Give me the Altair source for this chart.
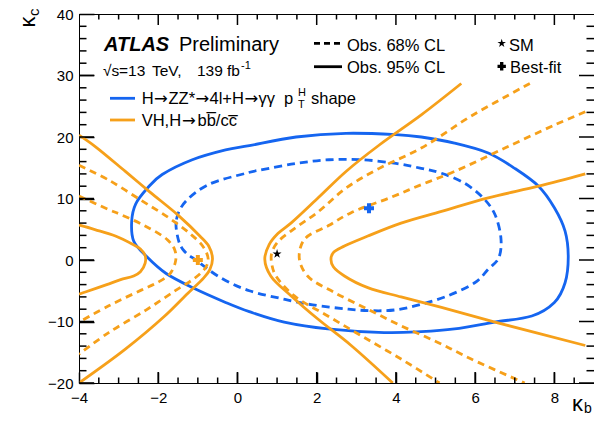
import altair as alt
import pandas as pd

FONT = "Liberation Sans"
ARROW_FONT = "DejaVu Sans"
BLUE = "#1565f0"
ORANGE = "#f6a01a"
W, H = 515, 369

X_DOMAIN = [-4, 9]
Y_DOMAIN = [-20, 40]
X_LABELS = [-4, -2, 0, 2, 4, 6, 8]
Y_LABELS = [-20, -10, 0, 10, 20, 30, 40]
X_MINOR = [-3.5, -3, -2.5, -1.5, -1, -0.5, 0.5, 1, 1.5, 2.5, 3, 3.5,
           4.5, 5, 5.5, 6.5, 7, 7.5, 8.5]
Y_MINOR = [-18, -16, -14, -12, -8, -6, -4, -2, 2, 4, 6, 8, 12, 14, 16, 18,
           22, 24, 26, 28, 32, 34, 36, 38]

# H->ZZ*->4l + H->yy pT shape, observed 95% CL (closed contour)
B95_KB = [-2.62, -2.67, -2.57, -2.27, -1.9, -1.14, -0.3, 0.3, 1.48, 2.74, 4.0, 4.64,
          5.48, 6.33, 7.0, 7.6, 8.0, 8.27, 8.35, 8.27, 8.0, 7.43, 6.49, 5.48, 4.64,
          3.7, 2.28, 1.18, 0.3, -0.3, -1.1, -1.8, -2.3]
B95_KC = [3.1, 6.3, 9.1, 11.7, 13.9, 16.3, 17.9, 18.6, 20.0, 20.6, 20.4, 20.0,
          19.0, 17.4, 14.9, 12.0, 8.5, 4.7, 0.5, -3.7, -6.9, -9.1, -10.1, -11.2, -11.65,
          -11.8, -11.2, -10.1, -8.4, -6.9, -4.6, -2.2, 0.6]
# observed 68% CL (closed contour)
B68_KB = [-1.5, -1.54, -1.31, -0.72, 0.21, 0.63, 1.48, 2.31, 3.16, 4.0, 4.64, 5.15,
          5.73, 6.2, 6.5, 6.65, 6.6, 6.33, 5.99, 5.32, 4.64, 4.0, 3.4, 2.8, 1.9, 1.2,
          0.3, -0.42, -1.01, -1.35]
B68_KC = [3.5, 6.6, 9.5, 12.3, 14.1, 14.7, 15.7, 16.3, 16.3, 15.7, 14.9, 14.1,
          12.5, 10.1, 7.4, 3.6, 0.4, -1.5, -3.7, -5.8, -7.2, -8.1, -8.25, -8.0, -7.3,
          -6.4, -5.0, -2.9, -0.2, 1.5]

# VH, H->bb/cc, observed 95% CL (four open branches)
O95A_KB = [-4.0, -3.6, -3.08, -2.66, -2.45, -2.33, -2.33, -2.45, -2.62, -2.95, -3.3, -3.84, -4.0]
O95A_KC = [5.7, 4.95, 3.9, 2.6, 1.8, 0.7, -0.5, -1.9, -2.6, -3.2, -4.0, -5.2, -5.55]
O95B_KB = [-4.0, -3.59, -2.83, -2.2, -1.5, -0.95, -0.72, -0.63, -0.7, -0.85, -1.25, -1.85, -2.83, -4.0]
O95B_KC = [20.3, 18.45, 14.4, 11.0, 7.3, 3.9, 2.2, 0.2, -1.6, -2.9, -5.4, -9.2, -14.5, -20.0]
O95C_KB = [5.65, 4.64, 3.58, 2.74, 2.05, 1.35, 1.02, 0.8, 0.69, 0.84, 1.35, 2.03, 2.87, 3.92]
O95C_KC = [28.7, 23.6, 18.7, 14.4, 10.2, 6.0, 4.3, 2.5, 0.1, -2.6, -5.8, -9.6, -13.9, -20.0]
O95D_KB = [8.78, 7.6, 6.33, 5.15, 4.13, 3.29, 2.7, 2.42, 2.36, 2.42, 2.7, 3.29, 4.13, 5.15, 6.5, 8.78]
O95D_KC = [14.0, 12.0, 10.1, 7.9, 6.0, 3.9, 2.27, 1.2, 0.1, -1.1, -2.6, -4.5, -6.0, -7.7, -10.1, -13.9]
# observed 68% CL (four open branches)
O68A_KB = [-4.0, -3.25, -2.95, -2.35, -1.77, -1.58, -1.56, -1.7, -2.0, -2.43, -3.25, -4.0]
O68A_KC = [10.4, 8.2, 7.4, 5.6, 3.3, 1.6, -0.1, -2.2, -3.6, -4.9, -7.45, -10.1]
O68B_KB = [-4.0, -3.25, -2.43, -1.72, -1.2, -0.87, -0.74, -0.8, -1.05, -1.55, -2.3, -3.25, -4.0]
O68B_KC = [15.4, 13.0, 9.7, 6.8, 4.3, 2.2, 0.2, -1.2, -2.8, -4.9, -8.1, -11.8, -15.3]
O68C_KB = [7.38, 5.9, 4.64, 3.58, 2.74, 2.03, 1.35, 1.0, 0.86, 0.87, 0.97, 1.43, 2.28, 3.12, 4.13, 5.1]
O68C_KC = [28.7, 23.4, 18.2, 14.9, 11.7, 7.8, 4.7, 2.8, 1.0, -0.8, -2.6, -5.8, -9.1, -12.3, -16.1, -20.0]
O68D_KB = [8.78, 8.02, 6.75, 5.48, 4.64, 3.88, 2.87, 2.3, 1.69, 1.56, 1.77, 2.45, 3.29, 4.13, 5.06, 5.9, 7.25]
O68D_KC = [24.1, 22.0, 18.2, 14.4, 12.25, 10.2, 7.7, 5.6, 3.35, 0.3, -2.6, -5.3, -8.0, -10.7, -13.4, -16.1, -20.0]

SM_POINT = {"kb": [1.0], "kc": [1.0]}
BLUE_BEST = {"kb": [3.32], "kc": [8.4]}
ORANGE_BEST = {"kb": [-1.0], "kc": [0.0]}

STAR = ("M0,-1L0.2245,-0.309L0.951,-0.309L0.363,0.118L0.588,0.809L0,0.382"
        "L-0.588,0.809L-0.363,0.118L-0.951,-0.309L-0.2245,-0.309Z")


def frame(parts):
    rows = []
    for name, kb, kc in parts:
        rows.append(pd.DataFrame({"curve": name, "kb": kb, "kc": kc,
                                  "i": list(range(len(kb)))}))
    return pd.concat(rows, ignore_index=True)


# axes: the axis line is pulled inside the frame (negative offset) so that
# the major ticks point inwards; labels stay just outside the frame
X = alt.X("kb:Q", scale=alt.Scale(domain=X_DOMAIN, nice=False, zero=False),
          axis=alt.Axis(values=X_LABELS, title=None, ticks=True, tickSize=11,
                        tickColor="black", tickWidth=1.5, offset=-11,
                        domain=False, grid=False, labelFontSize=15, labelFont=FONT,
                        labelColor="black", labelPadding=7, labelFlush=False,
                        labelOverlap=False))
Y = alt.Y("kc:Q", scale=alt.Scale(domain=Y_DOMAIN, nice=False, zero=False),
          axis=alt.Axis(values=Y_LABELS, title=None, ticks=True, tickSize=15,
                        tickColor="black", tickWidth=1.5, offset=-15,
                        domain=False, grid=False, labelFontSize=15, labelFont=FONT,
                        labelColor="black", labelPadding=6, labelFlush=False,
                        labelOverlap=False))


def curves(df, color, dash=None, interp="catmull-rom", width=2.8):
    kw = dict(color=color, strokeWidth=width, interpolate=interp, clip=True)
    if dash:
        kw["strokeDash"] = dash
    return alt.Chart(df).mark_line(**kw).encode(x=X, y=Y, detail="curve:N", order="i:Q")


ONE = pd.DataFrame({"_": [0]})


def label(text, x, y, size=16.5, **kw):
    props = dict(font=FONT, fontSize=size, align="left", baseline="alphabetic",
                 color="black")
    props.update(kw)
    return alt.Chart(ONE).mark_text(**props).encode(
        x=alt.value(x), y=alt.value(y), text=alt.value(text))


def hline(x1, x2, y, color, dash=None):
    kw = dict(color=color, strokeWidth=2.8)
    if dash:
        kw["strokeDash"] = dash
    return alt.Chart(ONE).mark_rule(**kw).encode(
        x=alt.value(x1), x2=alt.value(x2), y=alt.value(y))


layers = []

blue95 = frame([("b95", B95_KB, B95_KC)])
blue68 = frame([("b68", B68_KB, B68_KC)])
orange95 = frame([("a", O95A_KB, O95A_KC), ("b", O95B_KB, O95B_KC),
                  ("c", O95C_KB, O95C_KC), ("d", O95D_KB, O95D_KC)])
orange68 = frame([("a", O68A_KB, O68A_KC), ("b", O68B_KB, O68B_KC),
                  ("c", O68C_KB, O68C_KC), ("d", O68D_KB, O68D_KC)])

layers.append(curves(blue95, BLUE, interp="cardinal-closed"))
layers.append(curves(blue68, BLUE, dash=[8, 5], interp="cardinal-closed"))
layers.append(curves(orange95, ORANGE))
layers.append(curves(orange68, ORANGE, dash=[7, 5]))

layers.append(alt.Chart(pd.DataFrame(BLUE_BEST)).mark_point(
    shape="cross", filled=True, size=100, color=BLUE, opacity=1).encode(x=X, y=Y))
layers.append(alt.Chart(pd.DataFrame(ORANGE_BEST)).mark_point(
    shape="cross", filled=True, size=100, color=ORANGE, opacity=1).encode(x=X, y=Y))
layers.append(alt.Chart(pd.DataFrame(SM_POINT)).mark_point(
    shape=STAR, filled=True, size=90, color="black", opacity=1).encode(x=X, y=Y))

# inward major and minor ticks on all four sides,
# two points per tick, lengths in px turned into data units
ky = (Y_DOMAIN[1] - Y_DOMAIN[0]) / H
kx = (X_DOMAIN[1] - X_DOMAIN[0]) / W
tick_rows = []
n = 0
for vals, ln in ((X_LABELS, 11), (X_MINOR, 5.5)):
    for v in vals:
        tick_rows += [(f"t{n}", v, Y_DOMAIN[0], 0), (f"t{n}", v, Y_DOMAIN[0] + ln * ky, 1)]
        n += 1
        tick_rows += [(f"t{n}", v, Y_DOMAIN[1], 0), (f"t{n}", v, Y_DOMAIN[1] - ln * ky, 1)]
        n += 1
for vals, ln in ((Y_LABELS, 15), (Y_MINOR, 7.5)):
    for v in vals:
        tick_rows += [(f"t{n}", X_DOMAIN[0], v, 0), (f"t{n}", X_DOMAIN[0] + ln * kx, v, 1)]
        n += 1
        tick_rows += [(f"t{n}", X_DOMAIN[1], v, 0), (f"t{n}", X_DOMAIN[1] - ln * kx, v, 1)]
        n += 1
ticks = pd.DataFrame(tick_rows, columns=["curve", "kb", "kc", "i"])
layers.append(curves(ticks, "black", interp="linear", width=1.5))

# header (page y = plot y + 14, page x = plot x + 79)
layers.append(label("ATLAS", 25, 37, size=20, fontWeight="bold", fontStyle="italic"))
layers.append(label("Preliminary", 100, 37, size=20))
layers.append(label("\u221as", 24, 62, size=15.5))
layers.append(label("=13", 40, 62, size=15.5))
layers.append(label("TeV,", 73, 62, size=15.5))
layers.append(label("139", 118, 62, size=15.5))
layers.append(label("fb", 148, 62, size=15.5))
layers.append(label("-1", 162, 55, size=11))

# legend: colours
layers.append(hline(31, 56, 84.3, BLUE))
layers.append(label("H", 62.7, 89.5))
layers.append(label("\u2192", 75, 89.5, font=ARROW_FONT))
layers.append(label("ZZ*", 89.5, 89.5))
layers.append(label("\u2192", 116.5, 89.5, font=ARROW_FONT))
layers.append(label("4l+H", 130.5, 89.5))
layers.append(label("\u2192", 165.5, 89.5, font=ARROW_FONT))
layers.append(label("\u03b3\u03b3", 179.5, 89.5))
layers.append(label("p", 205, 89.5))
layers.append(label("T", 219, 94, size=11))
layers.append(label("H", 219, 82, size=11))
layers.append(label("shape", 232, 89.5))
layers.append(hline(31, 56, 106, ORANGE))
layers.append(label("VH,H", 62.7, 112))
layers.append(label("\u2192", 103, 112, font=ARROW_FONT))
layers.append(label("bb\u0305/cc\u0305", 118.5, 112))

# legend: line styles and markers
layers.append(hline(235, 263, 29.3, "black", dash=[6, 4]))
layers.append(label("Obs. 68% CL", 268, 36.5))
layers.append(hline(235, 263, 52.7, "black"))
layers.append(label("Obs. 95% CL", 268, 59))
layers.append(alt.Chart(ONE).mark_point(
    shape=STAR, filled=True, size=80, color="black", opacity=1).encode(
    x=alt.value(422.7), y=alt.value(29.3)))
layers.append(label("SM", 430, 36.5))
layers.append(alt.Chart(ONE).mark_point(
    shape="cross", filled=True, size=70, color="black", opacity=1).encode(
    x=alt.value(422.7), y=alt.value(52.3)))
layers.append(label("Best-fit", 431, 59))

# axis titles
layers.append(label("\u03ba", 493, 397, size=22))
layers.append(label("b", 505, 399, size=14))
layers.append(label("\u03ba", -44, 8, size=22, angle=270, align="center"))
layers.append(label("c", -40, 2, size=15, angle=270, align="left"))

chart = alt.layer(*layers).properties(
    width=W, height=H,
    padding={"left": 71, "top": 6, "right": 0, "bottom": 34},
    autosize=alt.AutoSizeParams(type="none"),
).configure_view(stroke="black", strokeWidth=1)

chart.save("out.html", embed_options={"renderer": "svg", "actions": False})
